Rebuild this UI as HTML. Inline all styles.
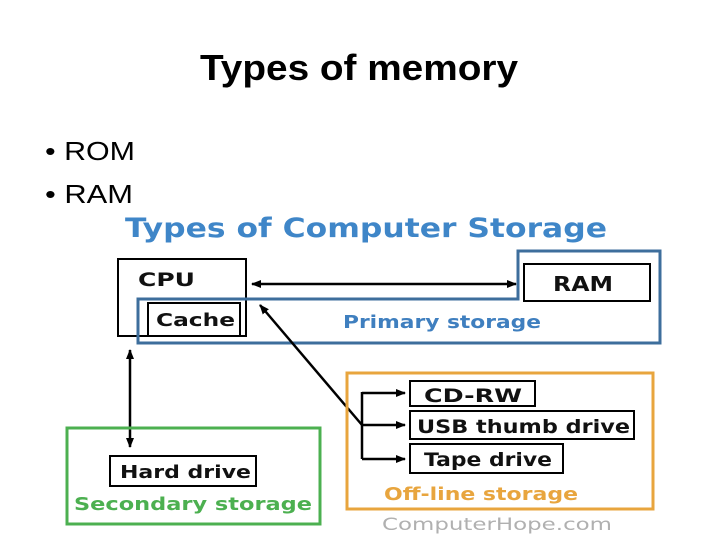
<!DOCTYPE html>
<html><head><meta charset="utf-8"><style>
body{margin:0;background:#fff}
svg{display:block}
</style></head><body>
<svg width="720" height="540" viewBox="0 0 720 540" xmlns="http://www.w3.org/2000/svg" font-family="DejaVu Sans, sans-serif">
<defs>
<marker id="a" markerWidth="10" markerHeight="8" refX="9" refY="4" orient="auto" markerUnits="userSpaceOnUse">
<path d="M0,0 L10,4 L0,8 z" fill="#000"/></marker>
<marker id="b" markerWidth="10" markerHeight="8" refX="1" refY="4" orient="auto" markerUnits="userSpaceOnUse">
<path d="M10,0 L0,4 L10,8 z" fill="#000"/></marker>
</defs>
<text x="200" y="80" font-family="Liberation Sans, sans-serif" font-size="36" font-weight="bold" fill="#000" textLength="318" lengthAdjust="spacingAndGlyphs">Types of memory</text>
<text x="45" y="160" font-family="Liberation Sans, sans-serif" font-size="26" fill="#000" textLength="90" lengthAdjust="spacingAndGlyphs">• ROM</text>
<text x="45" y="203" font-family="Liberation Sans, sans-serif" font-size="26" fill="#000" textLength="88" lengthAdjust="spacingAndGlyphs">• RAM</text>
<rect x="100" y="209" width="580" height="331" fill="#fff"/>
<text x="125" y="237" font-size="27" font-weight="bold" fill="#3f86c8" textLength="482" lengthAdjust="spacingAndGlyphs">Types of Computer Storage</text>
<rect x="118" y="259" width="128" height="77" fill="none" stroke="#000" stroke-width="2"/>
<text x="138" y="286" font-size="19" font-weight="bold" fill="#111" textLength="57" lengthAdjust="spacingAndGlyphs">CPU</text>
<path d="M138,299 L518,299 L518,251 L660,251 L660,343 L138,343 Z" fill="none" stroke="#3d6e9c" stroke-width="3"/>
<rect x="524" y="264" width="126" height="37" fill="#fff" stroke="#000" stroke-width="2"/>
<text x="553" y="291" font-size="20" font-weight="bold" fill="#111" textLength="60" lengthAdjust="spacingAndGlyphs">RAM</text>
<rect x="148" y="303" width="92" height="33" fill="#fff" stroke="#000" stroke-width="2"/>
<text x="156" y="326" font-size="18" font-weight="bold" fill="#111" textLength="79" lengthAdjust="spacingAndGlyphs">Cache</text>
<text x="343" y="328" font-size="18" fill="#3f7fbf" font-weight="bold" textLength="198" lengthAdjust="spacingAndGlyphs">Primary storage</text>
<line x1="252" y1="284" x2="516" y2="284" stroke="#000" stroke-width="2.5" marker-start="url(#b)" marker-end="url(#a)"/>
<line x1="260" y1="305" x2="362" y2="425" stroke="#000" stroke-width="2.5" marker-start="url(#b)"/>
<line x1="130" y1="350" x2="130" y2="447" stroke="#000" stroke-width="2.5" marker-start="url(#b)" marker-end="url(#a)"/>
<rect x="67" y="428" width="253" height="96" fill="none" stroke="#4cb050" stroke-width="3"/>
<rect x="110" y="456" width="146" height="30" fill="#fff" stroke="#000" stroke-width="2"/>
<text x="120" y="478" font-size="18" font-weight="bold" fill="#111" textLength="131" lengthAdjust="spacingAndGlyphs">Hard drive</text>
<text x="74" y="510" font-size="18" fill="#4cb050" font-weight="bold" textLength="238" lengthAdjust="spacingAndGlyphs">Secondary storage</text>
<rect x="347" y="373" width="306" height="136" fill="none" stroke="#e8a53e" stroke-width="3"/>
<line x1="362" y1="392" x2="362" y2="459" stroke="#000" stroke-width="2.5"/>
<line x1="362" y1="393" x2="405" y2="393" stroke="#000" stroke-width="2.5" marker-end="url(#a)"/>
<line x1="362" y1="425" x2="405" y2="425" stroke="#000" stroke-width="2.5" marker-end="url(#a)"/>
<line x1="362" y1="459" x2="405" y2="459" stroke="#000" stroke-width="2.5" marker-end="url(#a)"/>
<rect x="410" y="381" width="125" height="25" fill="#fff" stroke="#000" stroke-width="2"/>
<text x="424" y="402" font-size="19" font-weight="bold" fill="#111" textLength="98" lengthAdjust="spacingAndGlyphs">CD-RW</text>
<rect x="410" y="411" width="224" height="28" fill="#fff" stroke="#000" stroke-width="2"/>
<text x="417" y="433" font-size="19" font-weight="bold" fill="#111" textLength="213" lengthAdjust="spacingAndGlyphs">USB thumb drive</text>
<rect x="410" y="444" width="153" height="29" fill="#fff" stroke="#000" stroke-width="2"/>
<text x="424" y="466" font-size="19" font-weight="bold" fill="#111" textLength="128" lengthAdjust="spacingAndGlyphs">Tape drive</text>
<text x="384" y="500" font-size="18" fill="#e8a53e" font-weight="bold" textLength="194" lengthAdjust="spacingAndGlyphs">Off-line storage</text>
<text x="382" y="530" font-size="17" fill="#b0b0b0" textLength="230" lengthAdjust="spacingAndGlyphs">ComputerHope.com</text>
</svg>
</body></html>
